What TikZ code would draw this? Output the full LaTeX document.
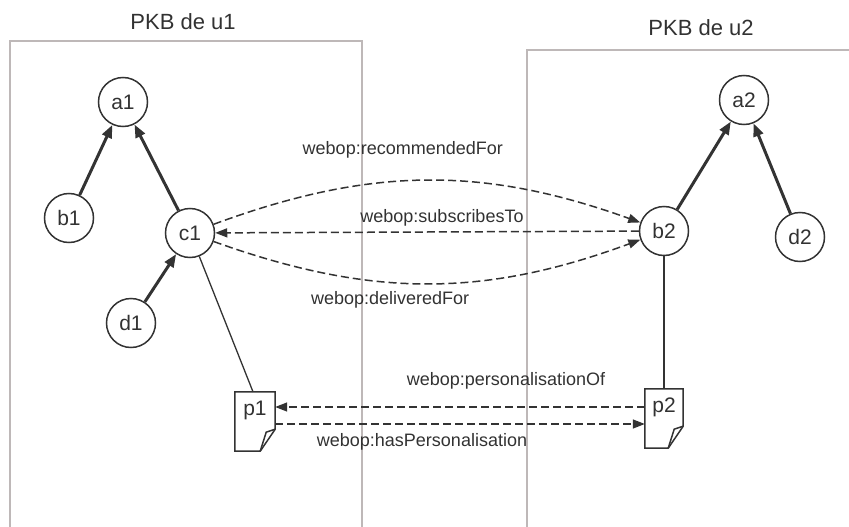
\documentclass[tikz,border=0pt]{standalone}
\usepackage{fontspec}
\setmainfont{Liberation Sans}
\usetikzlibrary{arrows.meta}

\definecolor{ink}{RGB}{51,51,51}
\definecolor{txt}{RGB}{50,50,50}
\definecolor{pkbframe}{RGB}{190,184,184}

\tikzset{
  res/.style={circle,draw=ink,line width=1.5pt,minimum size=49pt,inner sep=0pt,
    text=txt,font=\fontsize{21}{21}\selectfont},
  doc/.style={inner sep=0pt,text height=23pt,text depth=36pt,minimum width=40pt,
    text=txt,font=\fontsize{21}{21}\selectfont},
  docline/.style={draw=ink,line width=1.5pt,line join=miter},
  subof/.style={draw=ink,line width=3pt,-{Triangle[length=13pt,width=10pt]}},
  prop/.style={draw=ink,line width=1.5pt,dash pattern=on 8pt off 4pt,
    -{Triangle[length=12pt,width=9pt]}},
  link/.style={draw=ink,line width=1.3pt},
  lbl/.style={inner sep=0pt,text=txt,font=\fontsize{18}{18}\selectfont},
  ttl/.style={inner sep=0pt,anchor=base,text=txt,font=\fontsize{22}{22}\selectfont}
}

\newcommand{\docoutline}[1]{
  \draw[docline] (#1.north west) -- (#1.north east) -- ([yshift=22pt]#1.south east)
    -- ([xshift=-15pt]#1.south east) -- (#1.south west) -- cycle;
  \draw[docline] ([yshift=22pt]#1.south east) -- ([xshift=-9pt,yshift=19pt]#1.south east)
    -- ([xshift=-15pt]#1.south east);
}

\begin{document}
\begin{tikzpicture}[x=1pt,y=-1pt]
  \useasboundingbox (0,0) rectangle (849,527);

  % the two PKBs
  \draw[pkbframe,line width=1.3pt] (10,527) -- (10,41) -- (362,41) -- (362,527);
  \draw[pkbframe,line width=1.3pt] (527,527) -- (527,50) -- (849,50);
  \node[ttl] (t1) at (183,29.5) {PKB de u1};
  \node[ttl] (t2) at (701,36) {PKB de u2};

  % PKB de u1
  \node[res] (a1) at (123,102) {a1};
  \node[res] (b1) at (69,218) {b1};
  \node[res] (c1) at (190,233) {c1};
  \node[res] (d1) at (131,323) {d1};
  \node[doc] (p1) at (255,421.5) {p1};
  \docoutline{p1}

  % PKB de u2
  \node[res] (a2) at (744,100) {a2};
  \node[res] (b2) at (664,231) {b2};
  \node[res] (d2) at (800,237) {d2};
  \node[doc,minimum width=38pt] (p2) at (664,418.5) {p2};
  \docoutline{p2}

  \draw[subof] (b1) -- (a1);
  \draw[subof] (c1) -- (a1);
  \draw[subof] (d1) -- (c1);
  \draw[subof] (b2) -- (a2);
  \draw[subof] (d2) -- (a2);

  \draw[link] (c1) -- ([xshift=-2pt]p1.north);
  \draw[link] (b2) -- (p2.north);

  % relations between the PKBs
  \draw[prop] (c1) to[bend left=20]
    node[lbl,midway,above=21.5pt,xshift=-24pt] (l1) {webop:recommendedFor} (b2);
  \draw[prop] (b2) --
    node[lbl,midway,above=5.5pt,xshift=15pt] (l2) {webop:subscribesTo} (c1);
  \draw[prop] (c1) to[bend right=20]
    node[lbl,midway,below=7.5pt,xshift=-37pt] (l3) {webop:deliveredFor} (b2);
  \draw[prop] ([yshift=11.5pt]p2.west) --
    node[lbl,midway,above=17.5pt,xshift=46pt] (l4) {webop:personalisationOf} ([yshift=14.5pt]p1.east);
  \draw[prop] ([yshift=-2.5pt]p1.east) --
    node[lbl,midway,below=8.5pt,xshift=-38pt] (l5) {webop:hasPersonalisation} ([yshift=-5.5pt]p2.west);
\end{tikzpicture}
\end{document}
